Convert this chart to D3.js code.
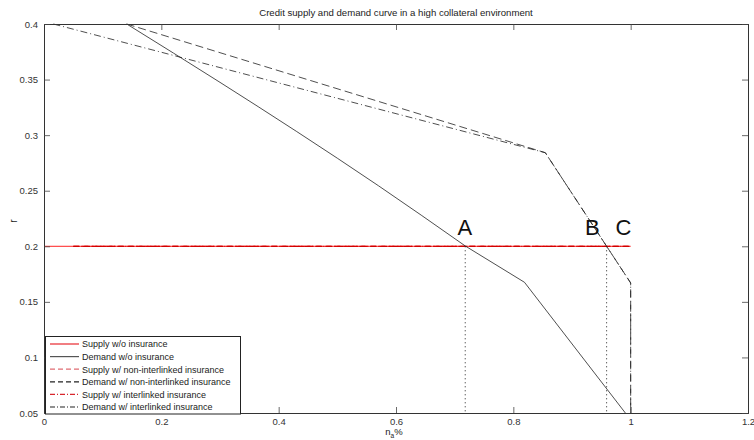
<!DOCTYPE html>
<html>
<head>
<meta charset="utf-8">
<script src="https://cdn.jsdelivr.net/npm/d3@7"></script>
<style>
  html, body { margin: 0; padding: 0; background: #fff; }
  svg { display: block; }
  text { font-family: "Liberation Sans", Arial, sans-serif; }
</style>
</head>
<body>
<svg id="chart" width="754" height="440"></svg>
<script>
// Tick values
const xTicks = [0, 0.2, 0.4, 0.6, 0.8, 1, 1.2];
const yTicks = [0.05, 0.1, 0.15, 0.2, 0.25, 0.3, 0.35, 0.4];

// Supply curves (flat at r = 0.2)
const supplyNoIns = [[0, 0.2], [1, 0.2]];
const supplyNonInterlinked = [[0.05, 0.2], [1, 0.2]];
const supplyInterlinked = [[0.05, 0.2], [1, 0.2]];

// Demand without insurance: smooth upper branch, then straight pieces
const demandNoInsUpper = [[0.141, 0.4], [0.30, 0.3475], [0.43, 0.3035], [0.57, 0.2545], [0.718, 0.2003]];
const demandNoInsLower = [[0.718, 0.2003], [0.819, 0.1676], [0.991, 0.05]];
// Demand with insurance
const demandNonInterlinked = [[0.141, 0.4], [0.8545, 0.2842], [1.0, 0.167], [1.0, 0.05]];
const demandInterlinked = [[0.016, 0.4], [0.8545, 0.2842], [1.0, 0.167], [1.0, 0.05]];

// Equilibrium markers
const eqX = [0.718, 0.959];
const eqR = 0.2;
const pointLabels = [
  { name: "A", x: 0.705, r: 0.2105 },
  { name: "B", x: 0.922, r: 0.2105 },
  { name: "C", x: 0.974, r: 0.2105 }
];

const legendEntries = [
  { label: "Supply w/o insurance", color: "#e8282f", dash: null },
  { label: "Demand w/o insurance", color: "#555", dash: null },
  { label: "Supply w/ non-interlinked insurance", color: "#e06c73", dash: "5,3" },
  { label: "Demand w/ non-interlinked insurance", color: "#222", dash: "5,3" },
  { label: "Supply w/ interlinked insurance", color: "#d8262d", dash: "5,2,1,2" },
  { label: "Demand w/ interlinked insurance", color: "#222", dash: "5,2,1,2" }
];

const svg = d3.select("#chart");
const plotLeft = 44, plotRight = 748, plotTop = 24, plotBottom = 413;

const x = d3.scaleLinear().domain([0, 1.2]).range([plotLeft, plotRight]);
const y = d3.scaleLinear().domain([0.05, 0.4]).range([plotBottom, plotTop]);
const line = d3.line().x(d => x(d[0])).y(d => y(d[1]));
const smoothLine = d3.line().x(d => x(d[0])).y(d => y(d[1])).curve(d3.curveMonotoneX);

const plot = svg.append("g");

// Axes and box with inward ticks on all four sides
const fmt = d => String(+d.toFixed(2));
const axB = svg.append("g").attr("transform", `translate(0,${plotBottom})`)
  .call(d3.axisBottom(x).tickValues(xTicks).tickSize(-6).tickPadding(5).tickFormat(fmt));
const axT = svg.append("g").attr("transform", `translate(0,${plotTop})`)
  .call(d3.axisTop(x).tickValues(xTicks).tickSize(-6).tickFormat(""));
const axL = svg.append("g").attr("transform", `translate(${plotLeft},0)`)
  .call(d3.axisLeft(y).tickValues(yTicks).tickSize(-6).tickPadding(6).tickFormat(fmt));
const axR = svg.append("g").attr("transform", `translate(${plotRight},0)`)
  .call(d3.axisRight(y).tickValues(yTicks).tickSize(-6).tickFormat(""));
[axB, axT, axL, axR].forEach(a => {
  a.select(".domain").attr("stroke", "#333").attr("stroke-width", 1);
  a.selectAll(".tick line").attr("stroke", "#444").attr("stroke-width", 0.8);
  a.selectAll(".tick text").attr("fill", "#333").attr("font-size", 9.5)
    .attr("font-family", "'Liberation Sans', Arial, sans-serif");
});

// Supply lines
plot.append("path").datum(supplyNoIns).attr("d", line)
  .attr("fill", "none").attr("stroke", "#ff2020").attr("stroke-width", 1);
plot.append("path").datum(supplyNonInterlinked).attr("d", line)
  .attr("fill", "none").attr("stroke", "#e00000").attr("stroke-width", 1.3).attr("stroke-dasharray", "6,3");
plot.append("path").datum(supplyInterlinked).attr("d", line)
  .attr("fill", "none").attr("stroke", "#d00000").attr("stroke-width", 1.3).attr("stroke-dasharray", "6,2,1,2");

// Demand lines
plot.append("path").datum(demandNoInsUpper).attr("d", smoothLine)
  .attr("fill", "none").attr("stroke", "#222").attr("stroke-width", 0.8);
plot.append("path").datum(demandNoInsLower).attr("d", line)
  .attr("fill", "none").attr("stroke", "#222").attr("stroke-width", 0.8);
plot.append("path").datum(demandNonInterlinked).attr("d", line)
  .attr("fill", "none").attr("stroke", "#222").attr("stroke-width", 0.8).attr("stroke-dasharray", "8,4");
plot.append("path").datum(demandInterlinked).attr("d", line)
  .attr("fill", "none").attr("stroke", "#222").attr("stroke-width", 0.8).attr("stroke-dasharray", "7,3,1,3");

// Dotted drop lines from equilibria to the axis
plot.selectAll("line.drop").data(eqX).join("line").attr("class", "drop")
  .attr("x1", d => x(d)).attr("x2", d => x(d))
  .attr("y1", y(eqR)).attr("y2", y(0.05))
  .attr("stroke", "#222").attr("stroke-width", 1).attr("stroke-dasharray", "1,3");

// Point labels
plot.selectAll("text.pt").data(pointLabels).join("text").attr("class", "pt")
  .attr("x", d => x(d.x)).attr("y", d => y(d.r))
  .attr("font-family", "'Open Sans', 'DejaVu Sans', sans-serif")
  .attr("font-size", 22).attr("fill", "#111")
  .text(d => d.name);

// Title and axis labels
svg.append("text").attr("x", 396).attr("y", 16).attr("text-anchor", "middle")
  .attr("font-size", 9.6).attr("fill", "#222")
  .text("Credit supply and demand curve in a high collateral environment");
svg.append("text").attr("transform", "translate(17,221) rotate(-90)")
  .attr("text-anchor", "middle").attr("font-size", 10).attr("fill", "#222").text("r");
const xl = svg.append("text").attr("x", 394).attr("y", 435).attr("text-anchor", "middle")
  .attr("font-size", 9.5).attr("fill", "#222");
xl.append("tspan").text("n");
xl.append("tspan").attr("dy", 2.5).attr("font-size", 6.5).text("a");
xl.append("tspan").attr("dy", -2.5).text("%");

// Legend
const lg = svg.append("g");
lg.append("rect").attr("x", 45.5).attr("y", 336.5).attr("width", 195).attr("height", 77.5)
  .attr("fill", "#fff").attr("stroke", "#222").attr("stroke-width", 1);
legendEntries.forEach((e, i) => {
  const yy = 344 + i * 12.6;
  lg.append("line").attr("x1", 50).attr("x2", 79).attr("y1", yy).attr("y2", yy)
    .attr("stroke", e.color).attr("stroke-width", 1.2)
    .attr("stroke-dasharray", e.dash);
  lg.append("text").attr("x", 82).attr("y", yy + 3.3).attr("font-size", 9)
    .attr("fill", "#222").text(e.label);
});
</script>
</body>
</html>
